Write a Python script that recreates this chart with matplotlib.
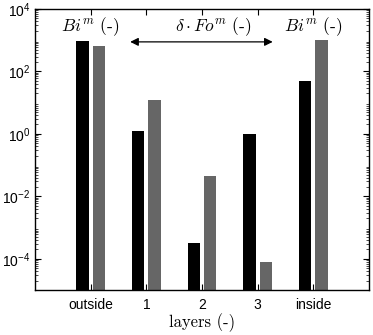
import numpy as np
import matplotlib
matplotlib.use('Agg')
import matplotlib.pyplot as plt
from matplotlib.ticker import LogLocator, NullFormatter

plt.rcParams['font.family'] = ['Liberation Sans', 'DejaVu Sans']
plt.rcParams['mathtext.fontset'] = 'cm'

# Data
layers = ['outside', '1', '2', '3', 'inside']
series_black = [950, 1.25, 3.1e-4, 1.0, 50]
series_gray = [650, 12, 0.045, 7.6e-5, 1000]

x = np.arange(1, len(layers) + 1)
w = 0.22
off = 0.145

fig = plt.figure(figsize=(3.73, 3.35), dpi=100)
ax = fig.add_axes([35/373, 45/335, 334/373, 281/335])
ax.set_yscale('log')
ax.bar(x - off, series_black, width=w, color='black', bottom=1e-6)
ax.bar(x + off, series_gray, width=w, color='#666666', bottom=1e-6)

ax.set_xlim(0, 6)
ax.set_ylim(1e-5, 1e4)
ax.set_xticks(x)
ax.set_xticklabels(layers, fontsize=10)
ax.set_yticks([1e-4, 1e-2, 1e0, 1e2, 1e4])
ax.yaxis.set_minor_locator(LogLocator(base=10, subs=np.arange(2, 10), numticks=20))
ax.yaxis.set_minor_formatter(NullFormatter())
ax.tick_params(axis='both', which='major', direction='in', top=True, right=True,
               length=4, width=0.8, labelsize=10)
ax.tick_params(axis='y', which='minor', direction='in', left=True, right=True,
               length=2, width=0.5)
ax.tick_params(axis='x', which='major', pad=6)
for s in ax.spines.values():
    s.set_linewidth(1.0)

ax.set_xlabel('layers (-)', fontfamily='cmr10', fontsize=12, labelpad=1)

tr = ax.get_xaxis_transform()
ax.text(1, 0.936, r'$Bi^m$ (-)', transform=tr, ha='center', va='center',
        fontfamily='cmr10', fontsize=12.5)
ax.text(3.2, 0.936, r'$\delta \cdot Fo^m$ (-)', transform=tr, ha='center', va='center',
        fontfamily='cmr10', fontsize=12.5)
ax.text(5, 0.936, r'$Bi^m$ (-)', transform=tr, ha='center', va='center',
        fontfamily='cmr10', fontsize=12.5)
ax.annotate('', xy=(4.27, 0.883), xytext=(1.71, 0.883), xycoords=tr, textcoords=tr,
            arrowprops=dict(arrowstyle='<|-|>', color='black', lw=0.9,
                            mutation_scale=12, shrinkA=0, shrinkB=0))

plt.savefig('out.png', dpi=100)
plt.close()
